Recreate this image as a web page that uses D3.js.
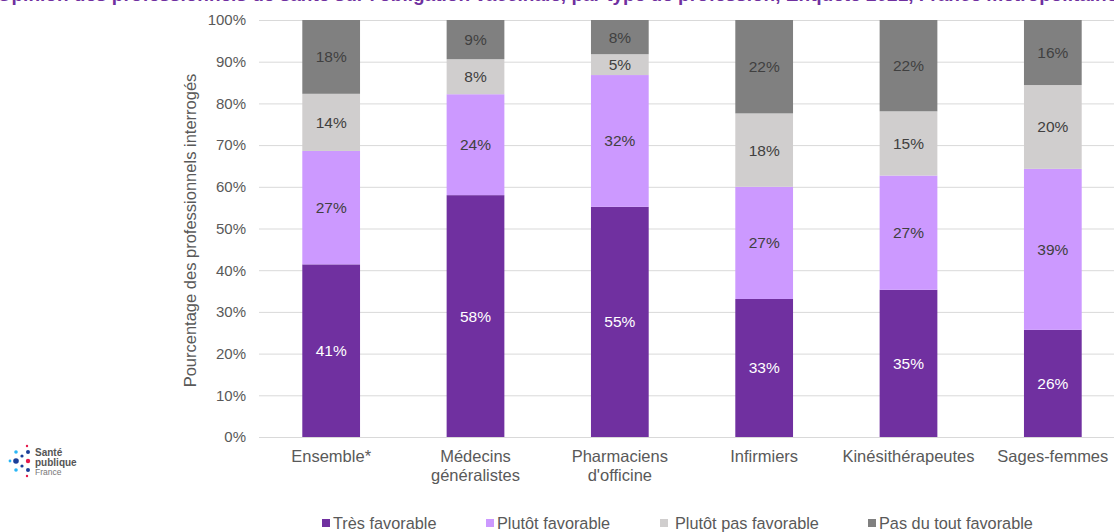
<!DOCTYPE html>
<html><head><meta charset="utf-8">
<script src="https://cdn.jsdelivr.net/npm/d3@7"></script>
<style>body{margin:0;background:#fff;} svg{display:block;font-family:"Liberation Sans",Arial,sans-serif;}</style>
</head><body><svg id="c" width="1114" height="532"></svg>
<script>
const categories = ["Ensemble*", "Médecins\ngénéralistes", "Pharmaciens\nd'officine", "Infirmiers", "Kinésithérapeutes", "Sages-femmes"];
const seriesNames = ["Très favorable", "Plutôt favorable", "Plutôt pas favorable", "Pas du tout favorable"];
const tresFavorable = [41.4, 58.0, 55.2, 33.1, 35.3, 25.7];
const plutotFavorable = [27.2, 24.2, 31.6, 26.9, 27.4, 38.6];
const plutotPasFavorable = [13.7, 8.4, 5.0, 17.6, 15.4, 20.1];
const pasDuToutFavorable = [17.7, 9.4, 8.2, 22.4, 21.9, 15.6];
const yTicks = [0, 10, 20, 30, 40, 50, 60, 70, 80, 90, 100];
const colors = ["#7030a0", "#cc99ff", "#d0cece", "#808080"];
const labelColors = ["#ffffff", "#404040", "#404040", "#404040"];

const svg = d3.select("#c");
const m = {left: 259, right: 1125, top: 20, bottom: 437};
const x = d3.scaleBand().domain(categories).range([m.left, m.right]).paddingInner(0.6).paddingOuter(0.3);
const y = d3.scaleLinear().domain([0, 100]).range([m.bottom, m.top]);

// title (cut off at top, as in the reference)
svg.append("text").attr("x", 557).attr("y", 1).attr("text-anchor", "middle")
  .attr("fill", "#7030a0").attr("font-weight", "bold").attr("font-size", 19)
  .text("Opinion des professionnels de santé sur l'obligation vaccinale, par type de profession, Enquête 2021, France métropolitaine");

// grid
svg.append("g").selectAll("line").data(yTicks).join("line")
  .attr("x1", m.left).attr("x2", 1114).attr("y1", d => y(d) + 0.5).attr("y2", d => y(d) + 0.5)
  .attr("stroke", "#d9d9d9").attr("stroke-width", 1);

// y axis
const yAxis = d3.axisLeft(y).tickValues(yTicks).tickFormat(d => d + "%").tickSize(0).tickPadding(13);
const gy = svg.append("g").attr("transform", `translate(${m.left},0)`).call(yAxis);
gy.select(".domain").remove();
gy.selectAll("text").attr("font-size", 15).attr("fill", "#595959").attr("font-family", "Liberation Sans, Arial, sans-serif");

svg.append("text").attr("transform", `translate(196,${(m.top + m.bottom) / 2 + 2}) rotate(-90)`)
  .attr("text-anchor", "middle").attr("font-size", 16.5).attr("fill", "#595959")
  .text("Pourcentage des professionnels interrogés");

// stacked data
const rows = categories.map((c, i) => ({cat: c, s0: tresFavorable[i], s1: plutotFavorable[i], s2: plutotPasFavorable[i], s3: pasDuToutFavorable[i]}));
const stack = d3.stack().keys(["s0", "s1", "s2", "s3"])(rows);

const gs = svg.append("g").selectAll("g").data(stack).join("g").attr("fill", (d, i) => colors[i]);
gs.selectAll("rect").data(d => d).join("rect")
  .attr("x", d => x(d.data.cat)).attr("width", x.bandwidth())
  .attr("y", d => y(d[1])).attr("height", d => y(d[0]) - y(d[1]));

stack.forEach((layer, li) => {
  svg.append("g").selectAll("text").data(layer).join("text")
    .attr("x", d => x(d.data.cat) + x.bandwidth() / 2)
    .attr("y", d => (y(d[0]) + y(d[1])) / 2 + 5.5)
    .attr("text-anchor", "middle").attr("font-size", 15.5).attr("fill", labelColors[li])
    .text(d => Math.round(d[1] - d[0]) + "%");
});

// x axis
const gx = svg.append("g").attr("transform", `translate(0,${m.bottom})`)
  .call(d3.axisBottom(x).tickSize(0).tickFormat(""));
gx.select(".domain").remove();
categories.forEach(c => {
  const lines = c.split("\n");
  const t = svg.append("text").attr("x", x(c) + x.bandwidth() / 2).attr("y", 462)
    .attr("text-anchor", "middle").attr("font-size", 16.5).attr("fill", "#595959");
  lines.forEach((l, i) => t.append("tspan").attr("x", x(c) + x.bandwidth() / 2).attr("dy", i ? 19 : 0).text(l));
});

// legend
const legX = [322, 486, 660, 868];
const lg = svg.append("g").selectAll("g").data(seriesNames).join("g")
  .attr("transform", (d, i) => `translate(${legX[i]},524)`);
lg.append("rect").attr("x", 0).attr("y", -5).attr("width", 8).attr("height", 8).attr("fill", (d, i) => colors[i]);
lg.append("text").attr("x", (d, i) => i === 2 ? 15 : 11).attr("y", 5).attr("font-size", 16.3).attr("fill", "#595959").text(d => d);

// logo
const logo = svg.append("g").attr("transform", "translate(8,446)");
const dots = [[19,0,1.2,"#e6194b"],[8,6,1.8,"#29b6f6"],[20,6,2,"#1a3e99"],[14,10,1.6,"#1a3e99"],[2,15,1.4,"#29b6f6"],[8,15,2.8,"#1a3e99"],[20,15,2.2,"#e6194b"],[14,20,1.6,"#1a3e99"],[8,24,1.8,"#29b6f6"],[20,24,2,"#1a3e99"],[19,30,1.2,"#e6194b"]];
logo.selectAll("circle").data(dots).join("circle").attr("cx", d => d[0]).attr("cy", d => d[1]).attr("r", d => d[2]).attr("fill", d => d[3]);
logo.append("text").attr("x", 27).attr("y", 10).attr("font-size", 10).attr("font-weight", "bold").attr("fill", "#555").text("Santé");
logo.append("text").attr("x", 27).attr("y", 20).attr("font-size", 10).attr("font-weight", "bold").attr("fill", "#555").text("publique");
logo.append("text").attr("x", 27).attr("y", 29).attr("font-size", 8.5).attr("fill", "#777").text("France");
</script></body></html>
